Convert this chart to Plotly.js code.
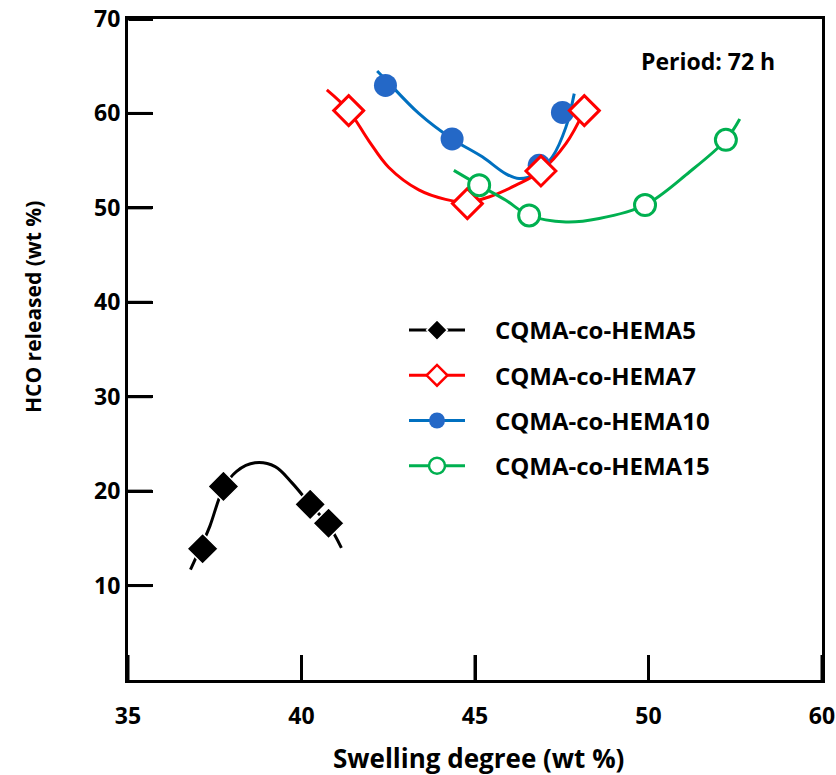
<!DOCTYPE html>
<html>
<head>
<meta charset="utf-8">
<script src="https://cdn.plot.ly/plotly-3.0.1.min.js"></script>
<style>html,body{margin:0;padding:0;background:#fff;}#chart{width:836px;height:775px;}</style>
</head>
<body>
<div id="chart"></div>
<script>
// ---- Data ----
const seriesNames = ['CQMA-co-HEMA5', 'CQMA-co-HEMA7', 'CQMA-co-HEMA10', 'CQMA-co-HEMA15'];

// measured points: swelling degree (wt %) vs HCO released (wt %)
const h5X = [37.15, 37.75, 40.25, 40.78];
const h5Y = [13.9, 20.5, 18.6, 16.6];
const h7X = [41.36, 44.78, 46.90, 48.15];
const h7Y = [60.3, 50.45, 53.9, 60.3];
const h10X = [42.42, 44.34, 46.85, 47.52];
const h10Y = [62.96, 57.3, 54.5, 60.1];
const h15X = [45.12, 46.56, 49.90, 52.23];
const h15Y = [52.4, 49.2, 50.3, 57.2];

// trend curves
const h5FitX = [36.80, 37.15, 37.36, 37.75, 38.13, 38.66, 39.24, 39.72, 40.25, 40.78, 41.15];
const h5FitY = [11.7, 14.5, 16.3, 20.3, 22.1, 23.0, 22.6, 20.9, 18.6, 16.4, 14.0];
const h7FitX = [40.73, 41.36, 41.94, 42.51, 43.38, 44.15, 44.78, 45.40, 46.18, 46.90, 47.62, 48.15];
const h7FitY = [62.5, 60.3, 57.1, 54.3, 51.9, 50.9, 50.6, 51.15, 52.4, 53.9, 56.8, 60.3];
const h10FitX = [42.18, 42.42, 43.38, 44.34, 45.21, 45.89, 46.27, 46.75, 47.23, 47.62, 47.86];
const h10FitY = [64.5, 63.6, 60.0, 57.3, 55.4, 53.6, 53.1, 53.6, 55.4, 58.55, 62.1];
const h15FitX = [44.39, 45.12, 45.89, 46.56, 47.62, 48.58, 49.90, 51.18, 52.23, 52.63];
const h15FitY = [53.97, 52.4, 50.8, 49.2, 48.5, 48.87, 50.3, 53.8, 57.2, 59.4];

const xTickVals = [35, 40, 45, 50, 55];
const xTickText = ['35', '40', '45', '50', '60'];
const yTickVals = [10, 20, 30, 40, 50, 60, 70];
const yTickText = ['10', '20', '30', '40', '50', '60', '70'];

const xTitle = 'Swelling degree (wt %)';
const yTitle = 'HCO released (wt %)';
const periodLabel = 'Period: 72 h';

// ---- Styles ----
const FONT = 'Open Sans, Noto Sans, sans-serif';
const styles = [
  {line: '#000000', symbol: 'diamond', fill: '#000000', mline: '#ffffff', mlw: 1.5, size: 24},
  {line: '#FF0000', symbol: 'diamond', fill: '#ffffff', mline: '#FF0000', mlw: 3, size: 23},
  {line: '#0070C0', symbol: 'circle', fill: '#2468C7', mline: '#2468C7', mlw: 0, size: 23},
  {line: '#00B050', symbol: 'circle', fill: '#ffffff', mline: '#00B050', mlw: 3, size: 21}
];
const fitXs = [h5FitX, h7FitX, h10FitX, h15FitX];
const fitYs = [h5FitY, h7FitY, h10FitY, h15FitY];
const ptXs = [h5X, h7X, h10X, h15X];
const ptYs = [h5Y, h7Y, h10Y, h15Y];

const traces = [];
const lineOrder = [0, 2, 1, 3];
lineOrder.forEach(i => {
  traces.push({x: fitXs[i], y: fitYs[i], type: 'scatter', mode: 'lines',
    line: {color: styles[i].line, width: 3, shape: 'spline', smoothing: 1},
    showlegend: false, hoverinfo: 'skip'});
});
lineOrder.forEach(i => {
  traces.push({x: ptXs[i], y: ptYs[i], type: 'scatter', mode: 'markers',
    marker: {symbol: styles[i].symbol, size: styles[i].size, color: styles[i].fill,
             line: {color: styles[i].mline, width: styles[i].mlw}},
    showlegend: false});
});
// legend entries (no data of their own); they sit on the overlay axis
[0, 1, 2, 3].forEach(i => {
  traces.push({x: [null], y: [null], type: 'scatter', mode: 'lines+markers', yaxis: 'y2',
    name: '\u00A0\u00A0\u00A0\u00A0' + seriesNames[i], legendgroup: 'g' + i,
    line: {color: styles[i].line, width: 3},
    marker: {symbol: styles[i].symbol, size: 16, color: styles[i].fill,
             line: {color: styles[i].mline, width: Math.min(styles[i].mlw, 2.5)}}});
});

const PL = 128, PT = 19, PW = 694, PH = 661;
const X_RANGE = [35, 55], Y_RANGE = [0, 70];
function px2paperX(px) { return (px - PL) / PW; }
function px2paperY(py) { return (PT + PH - py) / PH; }

// inward tick marks at the axis tick values
const X_TICK_LEN = 25, Y_TICK_LEN = 24;
const tickShapes = [];
xTickVals.forEach(v => tickShapes.push({
  type: 'line', xref: 'x', yref: 'paper', x0: v, x1: v, y0: 0, y1: X_TICK_LEN / PH,
  line: {color: '#000000', width: 3}, layer: 'above'
}));
yTickVals.forEach(v => tickShapes.push({
  type: 'line', xref: 'paper', yref: 'y', x0: 0, x1: Y_TICK_LEN / PW, y0: v, y1: v,
  line: {color: '#000000', width: 3}, layer: 'above'
}));

const layout = {
  width: 836, height: 775,
  margin: {l: PL, r: 836 - PL - PW, t: PT, b: 775 - PT - PH},
  paper_bgcolor: '#ffffff', plot_bgcolor: '#ffffff',
  font: {family: FONT, color: '#000000', size: 24, weight: 'bold'},
  showlegend: true,
  legend: {x: px2paperX(404), y: px2paperY(308), xanchor: 'left', yanchor: 'top',
    bgcolor: 'rgba(0,0,0,0)', borderwidth: 0,
    font: {family: FONT, size: 24, color: '#000000', weight: 'bold'},
    itemwidth: 56, tracegroupgap: 11, traceorder: 'grouped'},
  xaxis: {range: X_RANGE, tickmode: 'array', tickvals: xTickVals, ticktext: xTickText,
    ticks: 'inside', ticklen: 25, tickwidth: 3, tickcolor: '#000000',
    showline: true, linewidth: 3, linecolor: '#000000', mirror: true,
    showgrid: false, zeroline: false, ticklabelstandoff: 13,
    tickfont: {family: FONT, size: 23, color: '#000000', weight: 'bold'}},
  yaxis: {range: Y_RANGE, tickmode: 'array', tickvals: yTickVals, ticktext: yTickText,
    ticks: 'inside', ticklen: 24, tickwidth: 3, tickcolor: '#000000',
    showline: true, linewidth: 3, linecolor: '#000000', mirror: true,
    showgrid: false, zeroline: false,
    tickfont: {family: FONT, size: 23, color: '#000000', weight: 'bold'}},
  // overlay axis on the left edge whose outward ticks point into the plot
  yaxis2: {range: Y_RANGE, overlaying: 'y', side: 'right', anchor: 'free', position: 0,
    tickmode: 'array', tickvals: yTickVals, ticks: 'outside', ticklen: Y_TICK_LEN,
    tickwidth: 3, tickcolor: '#000000', showticklabels: false,
    showline: false, showgrid: false, zeroline: false},
  shapes: tickShapes,
  annotations: [
    {text: xTitle, xref: 'paper', yref: 'paper', x: px2paperX(478), y: px2paperY(758),
     xanchor: 'center', yanchor: 'middle', showarrow: false,
     font: {family: FONT, size: 26, color: '#000', weight: 'bold'}},
    {text: yTitle, xref: 'paper', yref: 'paper', x: px2paperX(33), y: px2paperY(307),
     xanchor: 'center', yanchor: 'middle', showarrow: false, textangle: -90,
     font: {family: FONT, size: 21, color: '#000', weight: 'bold'}},
    {text: periodLabel, xref: 'paper', yref: 'paper', x: px2paperX(708), y: px2paperY(61),
     xanchor: 'center', yanchor: 'middle', showarrow: false,
     font: {family: FONT, size: 23, color: '#000', weight: 'bold'}}
  ]
};

Plotly.newPlot('chart', traces, layout, {displayModeBar: false, staticPlot: true});
</script>
</body>
</html>
